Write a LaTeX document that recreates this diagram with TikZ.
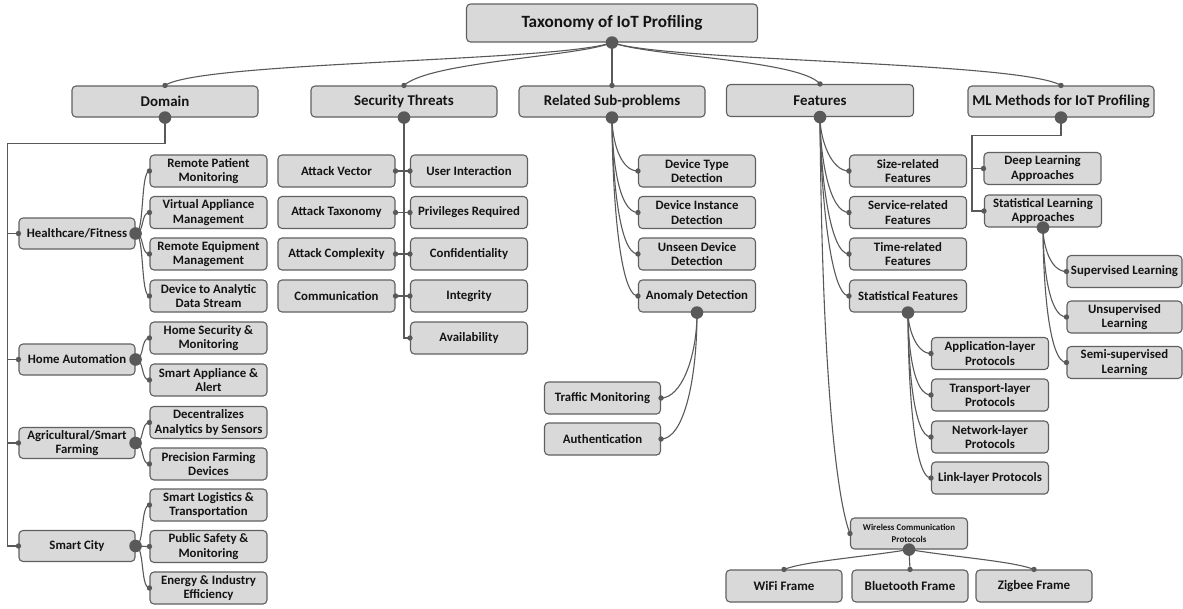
\documentclass[tikz,border=0pt]{standalone}
\usepackage{fontspec}
\setmainfont{Carlito}
\definecolor{fcol}{HTML}{D9D9D9}
\definecolor{bcol}{HTML}{606060}
\definecolor{lcol}{HTML}{595959}
\newcommand\sdotat[1]{\fill[lcol] (#1) circle[radius=2.7pt];}
\newcommand\bdotat[1]{\fill[lcol] (#1) circle[radius=6.3pt];}
\begin{document}
\begin{tikzpicture}[x=1pt,y=-1pt,
  box/.style={draw=bcol, fill=fcol, rounded corners=4pt, line width=1.1pt, align=center, inner sep=0pt, text=black!92,
    font=\bfseries\fontsize{12.8}{14.6}\selectfont, minimum width=117, minimum height=32},
  head/.style={box, font=\bfseries\fontsize{14.9}{17}\selectfont, minimum width=186, minimum height=31},
  frame/.style={box, font=\bfseries\fontsize{13}{15}\selectfont, minimum width=116},
  conn/.style={draw=lcol, line width=1.1pt}]
\useasboundingbox (0,0) rectangle (1183,608);
% ---------- nodes ----------
\node[box, font=\bfseries\fontsize{17.2}{20}\selectfont, minimum width=291, minimum height=38] (root) at (612,23) {Taxonomy of IoT Profiling};
\node[head] (dom) at (165,101.5) {Domain};
\node[head] (st) at (404,101.5) {Security Threats};
\node[head] (rs) at (612,101.5) {Related Sub-problems};
\node[head, minimum width=187, minimum height=32] (feat) at (820,100.5) {Features};
\node[head] (ml) at (1061,101.5) {ML Methods for IoT Profiling};
% Domain
\node[box, minimum width=116, minimum height=31] (hf) at (77,233.5) {Healthcare/Fitness};
\node[box, minimum width=116, minimum height=31] (ha) at (77,359.5) {Home Automation};
\node[box, minimum width=116, minimum height=31] (ag) at (77,443) {Agricultural/Smart\\Farming};
\node[box, minimum width=116, minimum height=31] (sc) at (77,546) {Smart City};
\node[box] (rpm) at (208.5,171) {Remote Patient\\Monitoring};
\node[box] (vam) at (208.5,212.5) {Virtual Appliance\\Management};
\node[box] (rem) at (208.5,254) {Remote Equipment\\Management};
\node[box] (das) at (208.5,296) {Device to Analytic\\Data Stream};
\node[box] (hsm) at (208.5,338) {Home Security \&\\Monitoring};
\node[box] (saa) at (208.5,380) {Smart Appliance \&\\Alert};
\node[box] (dab) at (208.5,422.5) {Decentralizes\\Analytics by Sensors};
\node[box] (pfd) at (208.5,464) {Precision Farming\\Devices};
\node[box] (slt) at (208.5,505) {Smart Logistics \&\\Transportation};
\node[box] (psm) at (208.5,546.5) {Public Safety \&\\Monitoring};
\node[box] (eie) at (208.5,588) {Energy \& Industry\\Efficiency};
% Security threats
\node[box] (av) at (336.5,171) {Attack Vector};
\node[box] (atx) at (336.5,212.5) {Attack Taxonomy};
\node[box] (acx) at (336.5,254) {Attack Complexity};
\node[box] (com) at (336.5,296) {Communication};
\node[box] (ui) at (469,171) {User Interaction};
\node[box] (pr) at (469,212.5) {Privileges Required};
\node[box] (conf) at (469,254) {Confidentiality};
\node[box] (integ) at (469,296) {Integrity};
\node[box] (avail) at (469,338) {Availability};
% Related sub-problems
\node[box] (dtd) at (697,171) {Device Type\\Detection};
\node[box] (did) at (697,212.5) {Device Instance\\Detection};
\node[box] (udd) at (697,254) {Unseen Device\\Detection};
\node[box] (ad) at (697,296) {Anomaly Detection};
\node[box, minimum width=116] (tm) at (602.5,398) {Traffic Monitoring};
\node[box, minimum width=116] (auth) at (602.5,439) {Authentication};
% Features
\node[box] (srf) at (908,171) {Size-related\\Features};
\node[box] (svf) at (908,212.5) {Service-related\\Features};
\node[box] (trf) at (908,254) {Time-related\\Features};
\node[box] (stf) at (908,296) {Statistical Features};
\node[box] (app) at (990,353.5) {Application-layer\\Protocols};
\node[box] (trans) at (990,395) {Transport-layer\\Protocols};
\node[box] (net) at (990,437) {Network-layer\\Protocols};
\node[box] (link) at (990,478) {Link-layer Protocols};
\node[box, font=\bfseries\fontsize{8.9}{12}\selectfont, minimum height=31] (wcp) at (909,533.5) {Wireless Communication\\Protocols};
\node[frame] (wifi) at (784,586) {WiFi Frame};
\node[frame] (bt) at (910,586) {Bluetooth Frame};
\node[frame] (zig) at (1034,586) {Zigbee Frame};
% ML
\node[box] (dla) at (1042.5,168.5) {Deep Learning\\Approaches};
\node[box] (sla) at (1043,211) {Statistical Learning\\Approaches};
\node[box, minimum width=115] (sup) at (1124.5,271.5) {Supervised Learning};
\node[box, minimum width=115] (uns) at (1124.5,317) {Unsupervised\\Learning};
\node[box, minimum width=115] (semi) at (1124.5,362.5) {Semi-supervised\\Learning};
% ---------- connectors ----------
\draw[conn] (root.south) .. controls +(-52,19) and +(35,-24) .. (dom.north);
\draw[conn] (root.south) .. controls +(-32,14) and +(26,-24) .. (st.north);
\draw[conn] (root.south) -- (rs.north);
\draw[conn] (root.south) .. controls +(38,14) and +(-20,-24) .. (feat.north);
\draw[conn] (root.south) .. controls +(53,19) and +(-40,-24) .. (ml.north);
% domain trunk
\draw[conn] (dom.south) -- ++(0,26) -| ([xshift=-11pt]sc.west) -- (sc.west);
\draw[conn] ([xshift=-11pt]hf.west) -- (hf.west);
\draw[conn] ([xshift=-11pt]ha.west) -- (ha.west);
\draw[conn] ([xshift=-11pt]ag.west) -- (ag.west);
\foreach \a/\b in {hf/rpm,hf/vam,hf/rem,hf/das,ha/hsm,ha/saa,ag/dab,ag/pfd,sc/slt,sc/psm,sc/eie}
  \draw[conn] (\a.east) .. controls +(9,0) and +(-9,0) .. (\b.west);
% security trunk
\draw[conn] (st.south) |- (avail.west);
\foreach \a/\b in {av/ui,atx/pr,acx/conf,com/integ}
  \draw[conn] (\a.east) -- (\b.west);
% related sub-problems
\draw[conn] (rs.south) .. controls +(0,22) and +(-18,0) .. (dtd.west);
\draw[conn] (rs.south) .. controls +(0,38) and +(-20,0) .. (did.west);
\draw[conn] (rs.south) .. controls +(0,50) and +(-20,0) .. (udd.west);
\draw[conn] (rs.south) .. controls +(0,60) and +(-20,0) .. (ad.west);
\draw[conn] (ad.south) .. controls +(0,45) and +(20,0) .. (tm.east);
\draw[conn] (ad.south) .. controls +(0,70) and +(22,0) .. (auth.east);
% features
\draw[conn] (feat.south) .. controls +(0,22) and +(-18,0) .. (srf.west);
\draw[conn] (feat.south) .. controls +(0,38) and +(-20,0) .. (svf.west);
\draw[conn] (feat.south) .. controls +(0,50) and +(-20,0) .. (trf.west);
\draw[conn] (feat.south) .. controls +(0,60) and +(-20,0) .. (stf.west);
\draw[conn] (feat.south) .. controls +(2,270) and +(-12,-30) .. (wcp.west);
\draw[conn] (stf.south) .. controls +(0,15) and +(-15,0) .. (app.west);
\draw[conn] (stf.south) .. controls +(0,32) and +(-18,0) .. (trans.west);
\draw[conn] (stf.south) .. controls +(0,48) and +(-18,0) .. (net.west);
\draw[conn] (stf.south) .. controls +(0,62) and +(-18,0) .. (link.west);
\draw[conn] (wcp.south) .. controls +(-50,8) and +(20,-8) .. (wifi.north);
\draw[conn] (wcp.south) -- (bt.north);
\draw[conn] (wcp.south) .. controls +(50,8) and +(-20,-8) .. (zig.north);
% ML
\draw[conn] (ml.south) -- ++(0,18) -| ([xshift=-12pt]sla.west) -- (sla.west);
\draw[conn] ([xshift=-11pt]dla.west) -- (dla.west);
\draw[conn] (sla.south) .. controls +(0,18) and +(-16,0) .. (sup.west);
\draw[conn] (sla.south) .. controls +(0,36) and +(-18,0) .. (uns.west);
\draw[conn] (sla.south) .. controls +(0,52) and +(-18,0) .. (semi.west);
% ---------- dots ----------
\bdotat{root.south}
\foreach \n in {dom,st,rs,feat,ml} {\sdotat{\n.north}\bdotat{\n.south}}
\foreach \n in {hf,ha,ag,sc} {\sdotat{\n.west}\bdotat{\n.east}}
\foreach \n in {rpm,vam,rem,das,hsm,saa,dab,pfd,slt,psm,eie,ui,pr,conf,integ,avail,dtd,did,udd,ad,srf,svf,trf,stf,app,trans,net,link,wcp,dla,sla,sup,uns,semi}
  {\sdotat{\n.west}}
\foreach \n in {av,atx,acx,com,tm,auth} {\sdotat{\n.east}}
\foreach \n in {ad,stf,sla,wcp} {\bdotat{\n.south}}
\foreach \n in {wifi,bt,zig} {\sdotat{\n.north}}
\end{tikzpicture}
\end{document}
